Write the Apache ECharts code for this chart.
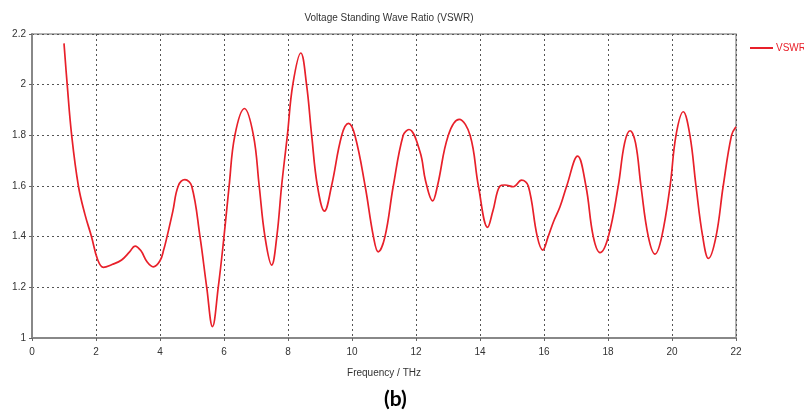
<!DOCTYPE html>
<html>
<head>
<meta charset="utf-8">
<script src="https://cdn.jsdelivr.net/npm/echarts@6/dist/echarts.min.js"></script>
<style>
html,body{margin:0;padding:0;background:#fff;}
#chart{width:804px;height:419px;}
</style>
</head>
<body>
<div id="chart"></div>
<script>
const titleText = 'Voltage Standing Wave Ratio (VSWR)';
const xAxisName = 'Frequency / THz';
const seriesName = 'VSWR1';
const captionText = '(b)';
const xTicks = [0, 2, 4, 6, 8, 10, 12, 14, 16, 18, 20, 22];
const yTicks = [1, 1.2, 1.4, 1.6, 1.8, 2, 2.2];

const freq = [1.00, 1.10, 1.24, 1.45, 1.65, 1.86, 2.05, 2.23, 2.50, 2.80, 3.05, 3.22, 3.40, 3.60, 3.79, 4.00, 4.12, 4.22, 4.40, 4.57, 4.78, 4.99, 5.25, 5.46, 5.64, 5.82, 6.00, 6.16, 6.34, 6.64, 6.92, 7.10, 7.28, 7.49, 7.65, 7.80, 7.98, 8.15, 8.40, 8.58, 8.74, 8.92, 9.14, 9.36, 9.68, 9.89, 10.09, 10.41, 10.67, 10.82, 11.03, 11.29, 11.60, 11.78, 12.125, 12.30, 12.52, 12.67, 13.01, 13.35, 13.69, 13.95, 14.24, 14.40, 14.625, 14.78, 15.04, 15.30, 15.51, 15.79, 15.96, 16.13, 16.30, 16.50, 16.71, 17.05, 17.31, 17.54, 17.75, 18.01, 18.32, 18.52, 18.69, 18.86, 19.03, 19.26, 19.47, 19.68, 19.94, 20.125, 20.35, 20.56, 20.75, 20.96, 21.14, 21.375, 21.60, 21.86, 22.00];
const vswr = [2.163, 2.00, 1.80, 1.60, 1.49, 1.40, 1.31, 1.279, 1.29, 1.308, 1.34, 1.363, 1.345, 1.30, 1.281, 1.305, 1.35, 1.40, 1.50, 1.60, 1.625, 1.60, 1.40, 1.20, 1.045, 1.20, 1.40, 1.60, 1.80, 1.906, 1.80, 1.60, 1.40, 1.288, 1.40, 1.60, 1.80, 2.00, 2.125, 2.00, 1.80, 1.60, 1.501, 1.60, 1.80, 1.847, 1.80, 1.60, 1.40, 1.34, 1.40, 1.60, 1.80, 1.823, 1.735, 1.62, 1.541, 1.60, 1.80, 1.863, 1.80, 1.60, 1.437, 1.50, 1.60, 1.604, 1.597, 1.623, 1.60, 1.40, 1.347, 1.40, 1.46, 1.518, 1.60, 1.718, 1.60, 1.40, 1.337, 1.40, 1.60, 1.77, 1.818, 1.77, 1.60, 1.40, 1.331, 1.40, 1.60, 1.80, 1.893, 1.80, 1.60, 1.40, 1.314, 1.40, 1.60, 1.80, 1.834];

const pts = freq.map((f, i) => [f, vswr[i]]);
const font = 'Liberation Sans';

const chart = echarts.init(document.getElementById('chart'), null, {renderer: 'canvas'});
chart.setOption({
  animation: false,
  backgroundColor: '#ffffff',
  title: {
    text: titleText,
    left: 384, top: 8, textAlign: 'center',
    textStyle: {fontFamily: font, fontSize: 10, fontWeight: 'normal', color: '#333'}
  },
  legend: {
    data: [seriesName],
    left: 745, top: 38,
    itemWidth: 23, itemHeight: 10, itemGap: 4,
    icon: 'path://M0,4 L23,4 L23,6 L0,6 Z',
    textStyle: {fontFamily: font, fontSize: 10, color: '#e8202a', padding: [0,0,0,-2]}
  },
  graphic: [{
    type: 'text', left: 384, top: 389,
    style: {text: captionText, font: 'bold 21px Lato', fill: '#000', textAlign: 'center'}
  }],
  grid: {left: 32, right: 68, top: 34, bottom: 81, show: true, borderColor: '#9a9a9a', borderWidth: 1.5},
  xAxis: {
    type: 'value', min: xTicks[0], max: xTicks[xTicks.length - 1], interval: 2,
    name: xAxisName, nameLocation: 'middle', nameGap: 30,
    nameTextStyle: {fontFamily: font, fontSize: 10, color: '#333'},
    axisLine: {show: true, lineStyle: {color: '#888', width: 2}},
    axisTick: {show: true, length: 3, lineStyle: {color: '#666'}},
    axisLabel: {fontFamily: font, fontSize: 10, color: '#333', margin: 9},
    splitLine: {show: true, lineStyle: {color: '#555', type: [2, 3], width: 1}}
  },
  yAxis: {
    type: 'value', min: yTicks[0], max: yTicks[yTicks.length - 1], interval: 0.2,
    axisLine: {show: true, lineStyle: {color: '#888', width: 2}},
    axisTick: {show: true, length: 3, lineStyle: {color: '#666'}},
    axisLabel: {fontFamily: font, fontSize: 10, color: '#333', margin: 6,
      formatter: v => String(Math.round(v * 10) / 10)},
    splitLine: {show: true, lineStyle: {color: '#555', type: [2, 3], width: 1}}
  },
  series: [{
    name: seriesName, type: 'line', data: pts,
    smooth: 0.4, showSymbol: false,
    lineStyle: {color: '#e8202a', width: 1.7},
    itemStyle: {color: '#e8202a'}
  }]
});
</script>
</body>
</html>
